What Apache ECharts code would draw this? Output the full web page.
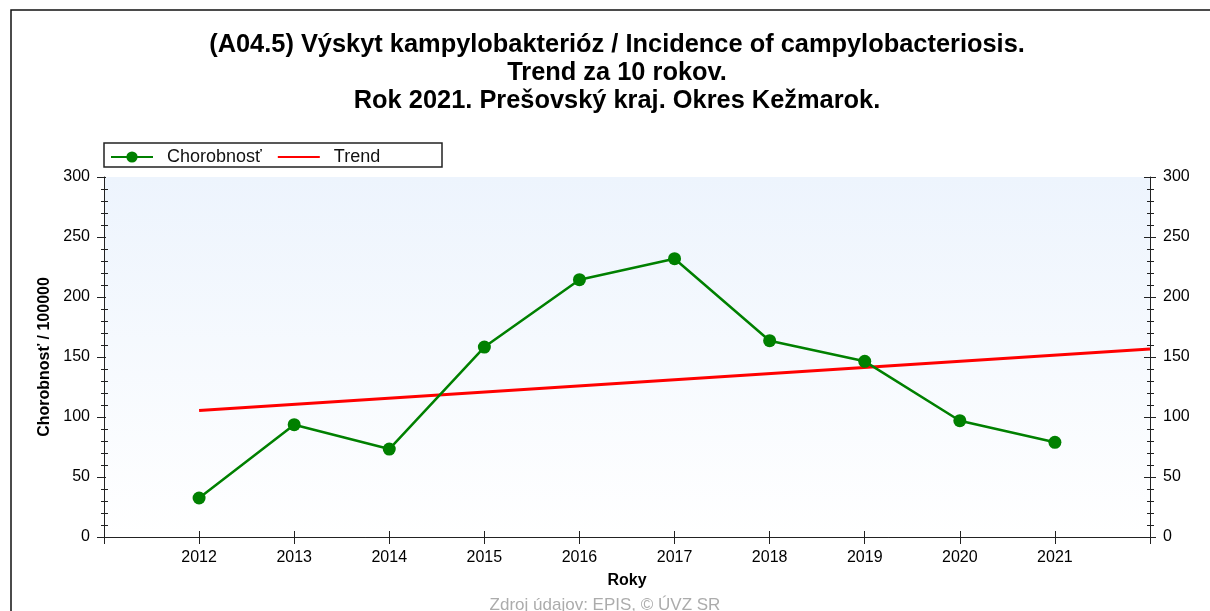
<!DOCTYPE html>
<html>
<head>
<meta charset="utf-8">
<title>Kampylobakterióza - Kežmarok</title>
<script src="https://cdn.jsdelivr.net/npm/echarts@6/dist/echarts.min.js"></script>
<style>
    html, body { margin: 0; padding: 0; background: #fff; }
    #mainChart { width: 1210px; height: 611px; }
</style>
</head>
<body>
<div id="mainChart"></div>
<script>
// values
var years = [2012, 2013, 2014, 2015, 2016, 2017, 2018, 2019, 2020, 2021];
var incidence = [32.5, 93.6, 73.3, 158.3, 214.4, 231.9, 163.6, 146.4, 96.9, 78.9];
var trendYears = [2012, 2022];
var trendValues = [105.5, 156.7];
var yTicks = [0, 50, 100, 150, 200, 250, 300];

var titleLines = [
    '(A04.5) Výskyt kampylobakterióz / Incidence of campylobacteriosis.',
    'Trend za 10 rokov.',
    'Rok 2021. Prešovský kraj. Okres Kežmarok.'
];
var font = '"Liberation Sans", Arial, sans-serif';
var myChart;

var pairs = (xs, ys) => xs.map((x, i) => [x, ys[i]]);
var yearLabel = v => (v < years[0] || v > years[years.length - 1]) ? '' : String(v);

function xAxisDef(position, inside, len, extra)
{
    return Object.assign({
        type: 'value',
        position: position,
        min: 2011,
        max: 2022,
        interval: 1,
        axisLine: { show: false, lineStyle: { color: '#222', width: 1 } },
        axisTick: { show: true, inside: inside, length: len, lineStyle: { color: '#222' } },
        axisLabel: { show: false },
        splitLine: { show: false }
    }, extra || {});
}

function yAxisDef(position, inside, len, minorLen, extra)
{
    return Object.assign({
        type: 'value',
        position: position,
        min: yTicks[0],
        max: yTicks[yTicks.length - 1],
        interval: 50,
        axisLine: { show: false, lineStyle: { color: '#222', width: 1 } },
        axisTick: { show: true, inside: inside, length: len, lineStyle: { color: '#222' } },
        minorTick: { show: true, splitNumber: 5, length: minorLen, lineStyle: { color: '#222' } },
        axisLabel: { show: false },
        splitLine: { show: false },
        minorSplitLine: { show: false }
    }, extra || {});
}

document.addEventListener('DOMContentLoaded', function()
{
    myChart = echarts.init(document.getElementById('mainChart'), null, { renderer: 'canvas' });

    var labelStyle = { show: true, fontFamily: font, fontSize: 16, color: '#000', margin: 13 };
    var solidLine = { show: true, lineStyle: { color: '#222', width: 1 } };

    var option = {
        backgroundColor: '#fff',
        animation: false,
        title: {
            text: titleLines.join('\n'),
            // original title is centred a little right of the page middle
            left: 612,
            textAlign: 'center',
            top: 26,
            textStyle: { fontFamily: font, fontSize: 25.4, fontWeight: 'bold', color: '#000', lineHeight: 28 }
        },
        legend: {
            left: 110,
            top: 148,
            padding: 0,
            itemWidth: 42,
            itemHeight: 14,
            itemGap: 15,
            textStyle: { fontFamily: font, fontSize: 18, color: '#111', padding: [0, 0, 0, 9] },
            data: [
                { name: 'Chorobnosť' },
                { name: 'Trend', itemStyle: { opacity: 0 } }
            ]
        },
        grid: {
            left: 104,
            right: 60,
            top: 177,
            bottom: 74,
            show: true,
            borderWidth: 0,
            backgroundColor: {
                type: 'linear', x: 0, y: 0, x2: 0, y2: 1,
                colorStops: [{ offset: 0, color: '#edf4fd' }, { offset: 1, color: '#ffffff' }]
            }
        },
        xAxis: [
            xAxisDef('bottom', false, 7, {
                axisLine: solidLine,
                axisLabel: Object.assign({}, labelStyle, { formatter: yearLabel }),
                name: 'Roky',
                nameLocation: 'middle',
                nameGap: 36,
                nameTextStyle: { fontFamily: font, fontSize: 16, fontWeight: 'bold', color: '#000' }
            }),
            xAxisDef('bottom', true, 6),
            xAxisDef('top', true, 6, { axisLine: solidLine })
        ],
        yAxis: [
            yAxisDef('left', false, 7, 3, {
                axisLine: solidLine,
                axisLabel: Object.assign({}, labelStyle, { margin: 14 }),
                name: 'Chorobnosť / 100000',
                nameLocation: 'middle',
                nameGap: 50,
                nameTextStyle: { fontFamily: font, fontSize: 16, fontWeight: 'bold', color: '#000' }
            }),
            yAxisDef('left', true, 2, 4),
            yAxisDef('right', false, 6, 4, {
                axisLine: solidLine,
                axisLabel: Object.assign({}, labelStyle)
            }),
            yAxisDef('right', true, 6, 3)
        ],
        series: [
            {
                name: 'Chorobnosť',
                type: 'line',
                xAxisIndex: 0,
                yAxisIndex: 0,
                data: pairs(years, incidence),
                symbol: 'circle',
                symbolSize: 13,
                lineStyle: { color: '#008000', width: 2.5 },
                itemStyle: { color: '#008000' },
                z: 3
            },
            {
                name: 'Trend',
                type: 'line',
                xAxisIndex: 0,
                yAxisIndex: 0,
                data: pairs(trendYears, trendValues),
                symbol: 'none',
                lineStyle: { color: '#ff0000', width: 3 },
                itemStyle: { color: '#ff0000' },
                z: 2
            }
        ],
        graphic: [
            {
                // outer frame, only top and left edges are in view
                type: 'rect',
                shape: { x: 11, y: 10, width: 1400, height: 900 },
                style: { fill: 'none', stroke: '#111', lineWidth: 1.5 },
                silent: true
            },
            {
                // legend box
                type: 'rect',
                shape: { x: 104, y: 143, width: 338, height: 24 },
                style: { fill: '#fff', stroke: '#222', lineWidth: 1.5 },
                silent: true,
                z: -1
            },
            {
                type: 'text',
                left: 'center',
                top: 597,
                style: { text: 'Zdroj údajov: EPIS, © ÚVZ SR', fontFamily: font, fontSize: 17, fill: '#acacac' },
                silent: true
            }
        ]
    };

    myChart.setOption(option);
});
</script>
</body>
</html>
